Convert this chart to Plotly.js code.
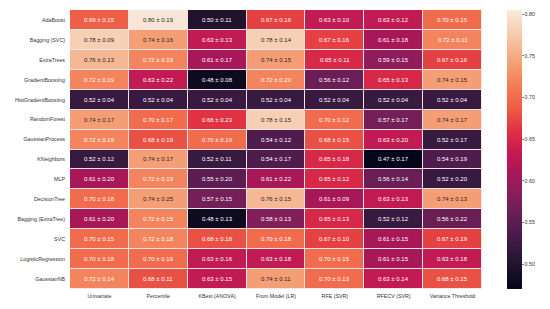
<!DOCTYPE html>
<html>
<head>
<meta charset="utf-8">
<script src="https://cdn.plot.ly/plotly-3.0.1.min.js"></script>
<style>html,body{margin:0;padding:0;background:#fff;}#chart{width:550px;height:309px;}</style>
</head>
<body>
<div id="chart"></div>
<script>
const methods = ["Univariate","Percentile","KBest (ANOVA)","From Model (LR)","RFE (SVR)","RFECV (SVR)","Variance Threshold"];
const models = ["AdaBoost","Bagging (SVC)","ExtraTrees","GradientBoosting","HistGradientBoosting","RandomForest","GaussianProcess","KNeighbors","MLP","DecisionTree","Bagging (ExtraTree)","SVC","LogisticRegression","GaussianNB"];
const meanScores = [
  [0.69,0.80,0.50,0.67,0.63,0.63,0.70],
  [0.78,0.74,0.63,0.78,0.67,0.61,0.72],
  [0.76,0.72,0.61,0.74,0.65,0.59,0.67],
  [0.72,0.63,0.48,0.72,0.56,0.65,0.74],
  [0.52,0.52,0.52,0.52,0.52,0.52,0.52],
  [0.74,0.70,0.66,0.78,0.70,0.57,0.74],
  [0.72,0.68,0.70,0.54,0.68,0.63,0.52],
  [0.52,0.74,0.52,0.54,0.65,0.47,0.54],
  [0.61,0.72,0.55,0.61,0.65,0.56,0.52],
  [0.70,0.74,0.57,0.76,0.61,0.63,0.74],
  [0.61,0.72,0.48,0.58,0.65,0.52,0.56],
  [0.70,0.72,0.68,0.70,0.67,0.61,0.67],
  [0.70,0.70,0.63,0.63,0.70,0.61,0.63],
  [0.72,0.68,0.63,0.74,0.70,0.63,0.68]
];
const stdScores = [
  [0.15,0.19,0.11,0.16,0.10,0.12,0.15],
  [0.09,0.16,0.13,0.14,0.16,0.18,0.11],
  [0.13,0.19,0.17,0.15,0.11,0.15,0.16],
  [0.19,0.22,0.08,0.20,0.12,0.13,0.15],
  [0.04,0.04,0.04,0.04,0.04,0.04,0.04],
  [0.17,0.17,0.23,0.15,0.12,0.17,0.17],
  [0.19,0.19,0.19,0.12,0.15,0.20,0.17],
  [0.12,0.17,0.11,0.17,0.18,0.17,0.19],
  [0.20,0.19,0.20,0.22,0.12,0.14,0.20],
  [0.18,0.25,0.15,0.15,0.09,0.13,0.13],
  [0.20,0.15,0.13,0.13,0.13,0.12,0.22],
  [0.15,0.18,0.18,0.18,0.10,0.15,0.19],
  [0.18,0.19,0.16,0.18,0.15,0.15,0.18],
  [0.14,0.11,0.15,0.11,0.13,0.14,0.15]
];
const colorbarTicks = [0.50,0.55,0.60,0.65,0.70,0.75,0.80];

const rocket = [
  [0.0,'#03051a'],[0.071,'#1c1127'],[0.143,'#35193e'],[0.214,'#521c4f'],[0.286,'#701f57'],
  [0.357,'#8e1d5b'],[0.429,'#ad1759'],[0.5,'#cb1b4f'],[0.571,'#e13342'],[0.643,'#ed5a46'],
  [0.714,'#f37651'],[0.786,'#f5966b'],[0.857,'#f6b48f'],[0.929,'#f7d0b6'],[1.0,'#faebdd']
];

const zmin = 0.47, zmax = 0.805;
const FONT = 'Liberation Sans, Arial, sans-serif';
const annotations = [];
models.forEach((m,i)=>{
  methods.forEach((c,j)=>{
    const v = meanScores[i][j];
    annotations.push({
      x: c, y: m, xref:'x', yref:'y', showarrow:false,
      text: v.toFixed(2) + ' ± ' + stdScores[i][j].toFixed(2),
      font: {family:FONT, size:6, color: v >= 0.735 ? '#262626' : '#ffffff'}
    });
  });
});

const trace = {
  type:'heatmap', x: methods, y: models, z: meanScores,
  zmin: zmin, zmax: zmax, colorscale: rocket, xgap: 1, ygap: 1,
  hoverinfo:'skip',
  colorbar: {
    x: 1.0607, xanchor:'left', xref:'paper', xpad:0, ypad:0, y:0.5, yanchor:'middle', len:1, lenmode:'fraction',
    thickness: 15, thicknessmode:'pixels', outlinewidth:0, tickvals: colorbarTicks,
    ticktext: colorbarTicks.map(v=>v.toFixed(2)),
    ticks:'outside', ticklen:2, tickwidth:0.6, tickcolor:'#333',
    tickfont:{family:FONT, size:5.3, color:'#333'}
  }
};

const layout = {
  width:550, height:309,
  margin:{l:70, r:68, t:10, b:20, pad:0},
  paper_bgcolor:'#ffffff', plot_bgcolor:'#f4e6e6',
  xaxis:{type:'category', side:'bottom', ticks:'', showgrid:false, zeroline:false, showline:false,
         tickfont:{family:FONT, size:5.3, color:'#333'}, ticklabelstandoff:3},
  yaxis:{type:'category', autorange:'reversed', ticks:'', showgrid:false, zeroline:false, showline:false,
         tickfont:{family:FONT, size:5.3, color:'#333'}, ticklabelstandoff:4},
  annotations: annotations,
  showlegend:false
};
Plotly.newPlot('chart',[trace],layout,{displayModeBar:false, staticPlot:true});
</script>
</body>
</html>
